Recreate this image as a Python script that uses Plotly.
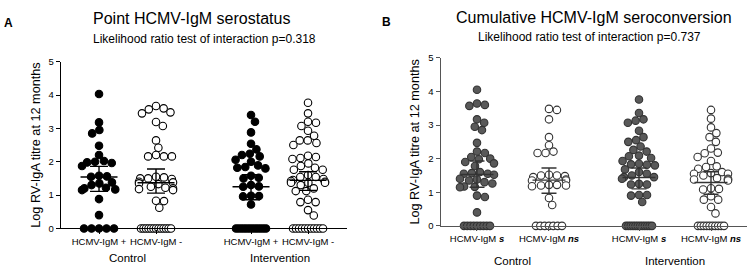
import math
import plotly.graph_objects as go

# ---------------- data ----------------
A_categories = ["HCMV-IgM +", "HCMV-IgM -", "HCMV-IgM +", "HCMV-IgM -"]
B_categories = ["HCMV-IgM <b><i>s</i></b>", "HCMV-IgM <b><i>ns</i></b>",
                "HCMV-IgM <b><i>s</i></b>", "HCMV-IgM <b><i>ns</i></b>"]
groups = ["Control", "Intervention"]

A_ctrl_pos = [4.03, 3.18, 2.95, 2.85, 2.48, 2.2, 2.02, 2.0, 1.98, 1.96, 1.87, 1.58, 1.56,
              1.55, 1.38, 1.35, 1.3, 1.22, 1.2, 1.17, 1.15, 0.88, 0.4,
              0, 0, 0, 0, 0]
A_ctrl_neg = [3.67, 3.6, 3.57, 3.48, 3.45, 3.19, 3.07, 2.64, 2.42, 2.2, 2.16, 2.16, 2.16,
              1.55, 1.53, 1.5, 1.5, 1.48, 1.4, 1.38, 1.35, 1.33, 1.25, 1.22, 1.2, 1.18,
              1.15, 0.83, 0.82, 0.62,
              0, 0, 0, 0, 0, 0, 0, 0, 0, 0, 0, 0, 0]
A_int_pos = [3.4, 3.2, 2.88, 2.54, 2.37, 2.24, 2.2, 2.16, 2.06, 2.0, 1.89, 1.84, 1.82, 1.8,
             1.58, 1.52, 1.5, 1.3, 1.26, 1.25, 0.98, 0.97, 0.96, 0.72,
             0, 0, 0, 0, 0, 0, 0, 0, 0, 0, 0, 0]
A_int_neg = [3.77, 3.45, 3.2, 3.17, 3.07, 2.93, 2.78, 2.64, 2.64, 2.56, 2.5, 2.18, 2.14,
             2.11, 2.08, 1.95, 1.87, 1.82, 1.76, 1.76, 1.6, 1.54, 1.54, 1.48, 1.45, 1.42,
             1.4, 1.37, 1.37, 1.37, 1.3, 1.2, 1.12, 1.12, 0.86, 0.79, 0.79, 0.55, 0.39,
             0, 0, 0, 0, 0, 0, 0, 0, 0, 0, 0]
A_mean = [1.54, 1.37, 1.25, 1.44]
A_ci_low = [1.11, 1.06, 0.86, 1.14]
A_ci_high = [1.86, 1.78, 1.61, 1.70]

B_ctrl_s = [4.05, 3.64, 3.6, 3.57, 3.17, 3.07, 2.95, 2.85, 2.47, 2.21, 2.17, 2.05, 2.0,
            1.98, 1.9, 1.86, 1.78, 1.6, 1.57, 1.55, 1.55, 1.52, 1.4, 1.38, 1.35, 1.3,
            1.26, 1.17, 1.16, 1.15, 0.9, 0.86, 0.4,
            0, 0, 0, 0, 0, 0, 0, 0, 0]
B_ctrl_ns = [3.48, 3.45, 3.17, 2.64, 2.4, 2.21, 2.17, 2.17, 1.52, 1.5, 1.5, 1.48, 1.45,
             1.38, 1.35, 1.35, 1.22, 1.22, 1.2, 1.2, 1.18, 0.83, 0.62,
             0, 0, 0, 0, 0, 0, 0]
B_int_s = [3.76, 3.36, 3.17, 3.13, 3.07, 2.83, 2.64, 2.55, 2.5, 2.36, 2.26, 2.21, 2.09,
           2.07, 2.02, 1.93, 1.85, 1.83, 1.82, 1.8, 1.68, 1.6, 1.55, 1.5, 1.45, 1.45, 1.4,
           1.25, 1.23, 1.23, 0.92, 0.92, 0.9, 0.71,
           0, 0, 0, 0, 0, 0, 0, 0, 0, 0, 0, 0]
B_int_ns = [3.45, 3.19, 2.93, 2.76, 2.64, 2.5, 2.3, 2.18, 2.16, 2.05, 1.93, 1.77, 1.75,
            1.7, 1.6, 1.57, 1.55, 1.55, 1.5, 1.42, 1.4, 1.38, 1.38, 1.35, 1.12, 1.1, 1.08,
            0.88, 0.78, 0.78, 0.56, 0.37,
            0, 0, 0, 0, 0, 0, 0, 0, 0, 0]
B_mean = [1.53, 1.36, 1.44, 1.29]
B_ci_low = [1.15, 0.97, 1.10, 0.94]
B_ci_high = [1.93, 1.72, 1.72, 1.61]

# ---------------- layout constants ----------------
W, H = 750, 275
FONT = "Liberation Sans, Arial, sans-serif"
D = 8.0  # marker spacing in px


def swarm(values, px_x, px_y, maxhalf, zero_half):
    """Beeswarm offsets (in x data units) computed from values."""
    offs = [0.0] * len(values)
    zeros = [i for i, v in enumerate(values) if v == 0]
    nz = [i for i, v in enumerate(values) if v != 0]
    placed = []
    for i in nz:
        y = values[i] * px_y
        cands = [0.0]
        for (qx, qy) in placed:
            dy = abs(y - qy)
            if dy < D:
                dx = math.sqrt(D * D - dy * dy)
                cands += [qx + dx, qx - dx]
        cands.sort(key=lambda c: (abs(c), -c))
        chosen = None
        for c in cands:
            if all((c - qx) ** 2 + (y - qy) ** 2 >= D * D - 1e-6 for qx, qy in placed):
                chosen = c
                break
        if chosen is None or abs(chosen) > maxhalf:
            c0 = chosen if chosen is not None else maxhalf
            chosen = math.copysign(maxhalf, c0)
        placed.append((chosen, y))
        offs[i] = chosen / px_x
    n = len(zeros)
    if n > 1:
        s = min(D, 2 * zero_half / (n - 1))
        for k, i in enumerate(zeros):
            offs[i] = (k - (n - 1) / 2) * s / px_x
    return offs


fig = go.Figure()

panels = [
    dict(name="A", xa="x", ya="y", series=[A_ctrl_pos, A_ctrl_neg, A_int_pos, A_int_neg],
         pos=[0, 1, 2.667, 3.667], pxx=57.0, pxy=34.75, rng=[-0.667, 4.351],
         dom_x=[61 / W, 347 / W], dom_y=[43.3 / H, 217.0 / H],
         fills=["#000000", "white", "#000000", "white"],
         lines=["#000000", "#000000", "#000000", "#000000"],
         mean=A_mean, lo=A_ci_low, hi=A_ci_high, mhalf=18.5, chalf=9.0,
         ecol="#000000", axcol="#000000", cats=A_categories),
    dict(name="B", xa="x2", ya="y2", series=[B_ctrl_s, B_ctrl_ns, B_int_s, B_int_ns],
         pos=[0, 1, 2.25, 3.25], pxx=72.0, pxy=34.93, rng=[-0.504, 3.75],
         dom_x=[440.7 / W, 747 / W], dom_y=[46.0 / H, 221.0 / H],
         fills=["#595959", "white", "#595959", "white"],
         lines=["#333333", "#333333", "#333333", "#333333"],
         mean=B_mean, lo=B_ci_low, hi=B_ci_high, mhalf=16.5, chalf=7.5,
         ecol="#333333", axcol="#555555", cats=B_categories),
]

for p in panels:
    for k, vals in enumerate(p["series"]):
        offs = swarm(vals, p["pxx"], p["pxy"], maxhalf=17.0, zero_half=15.0 if p["name"] == "A" else 13.0)
        fig.add_trace(go.Scatter(
            x=[p["pos"][k] + o for o in offs], y=vals, mode="markers",
            xaxis=p["xa"], yaxis=p["ya"], cliponaxis=False, showlegend=False,
            marker=dict(size=7.5, color=p["fills"][k],
                        line=dict(color=p["lines"][k], width=1.1)),
            hoverinfo="y"))
    # mean and 95% CI lines
    ex, ey = [], []
    for k in range(4):
        c = p["pos"][k]
        mh = p["mhalf"] / p["pxx"]
        ch = p["chalf"] / p["pxx"]
        ex += [c - mh, c + mh, None, c, c, None, c - ch, c + ch, None, c - ch, c + ch, None]
        ey += [p["mean"][k], p["mean"][k], None, p["lo"][k], p["hi"][k], None,
               p["lo"][k], p["lo"][k], None, p["hi"][k], p["hi"][k], None]
    fig.add_trace(go.Scatter(x=ex, y=ey, mode="lines", xaxis=p["xa"], yaxis=p["ya"],
                             line=dict(color=p["ecol"], width=1.4), showlegend=False,
                             hoverinfo="skip", cliponaxis=False))

axis_common = dict(showgrid=False, zeroline=False, showline=True, linewidth=1.4,
                   ticks="outside", ticklen=4, tickwidth=1.2,
                   tickfont=dict(family=FONT, size=9.5, color="#000"))

for p in panels:
    xkey = "xaxis" if p["xa"] == "x" else "xaxis2"
    ykey = "yaxis" if p["ya"] == "y" else "yaxis2"
    fig.update_layout(**{
        xkey: dict(axis_common, domain=p["dom_x"], range=p["rng"], anchor=p["ya"],
                   tickvals=p["pos"], ticktext=p["cats"], linecolor=p["axcol"],
                   tickcolor=p["axcol"], fixedrange=True),
        ykey: dict(axis_common, domain=p["dom_y"], range=[0, 5], anchor=p["xa"],
                   tickvals=[0, 1, 2, 3, 4, 5], linecolor=p["axcol"], tickcolor=p["axcol"],
                   title=dict(text="Log RV-IgA titre at 12 months", standoff=5,
                              font=dict(family=FONT, size=12.7, color="#000"))),
    })

ann = [
    dict(text="<b>A</b>", x=8, y=18, size=12),
    dict(text="Point HCMV-IgM serostatus", x=191, y=13, size=16),
    dict(text="Likelihood ratio test of interaction p=0.318", x=204, y=34, size=12),
    dict(text="<b>B</b>", x=386, y=17, size=12),
    dict(text="Cumulative HCMV-IgM seroconversion", x=594, y=12, size=16),
    dict(text="Likelihood ratio test of interaction p=0.737", x=589, y=32, size=12),
]
# group labels centred under each pair of categories
for p, gy in ((panels[0], 262), (panels[1], 266)):
    x0 = p["dom_x"][0] * W
    for g in range(2):
        cx = (p["pos"][2 * g] + p["pos"][2 * g + 1]) / 2
        px = x0 + (cx - p["rng"][0]) * p["pxx"]
        ann.append(dict(text=groups[g], x=px, y=gy, size=11.5))

fig.update_layout(annotations=[
    dict(text=a["text"], x=a["x"] / W, y=1 - a["y"] / H, xref="paper", yref="paper",
         showarrow=False, xanchor="center", yanchor="middle",
         font=dict(family=FONT, size=a["size"], color="#000")) for a in ann])

fig.update_layout(width=W, height=H, margin=dict(l=0, r=0, t=0, b=0),
                  paper_bgcolor="white", plot_bgcolor="white",
                  font=dict(family=FONT, color="#000"))

fig.write_html("out.html")
